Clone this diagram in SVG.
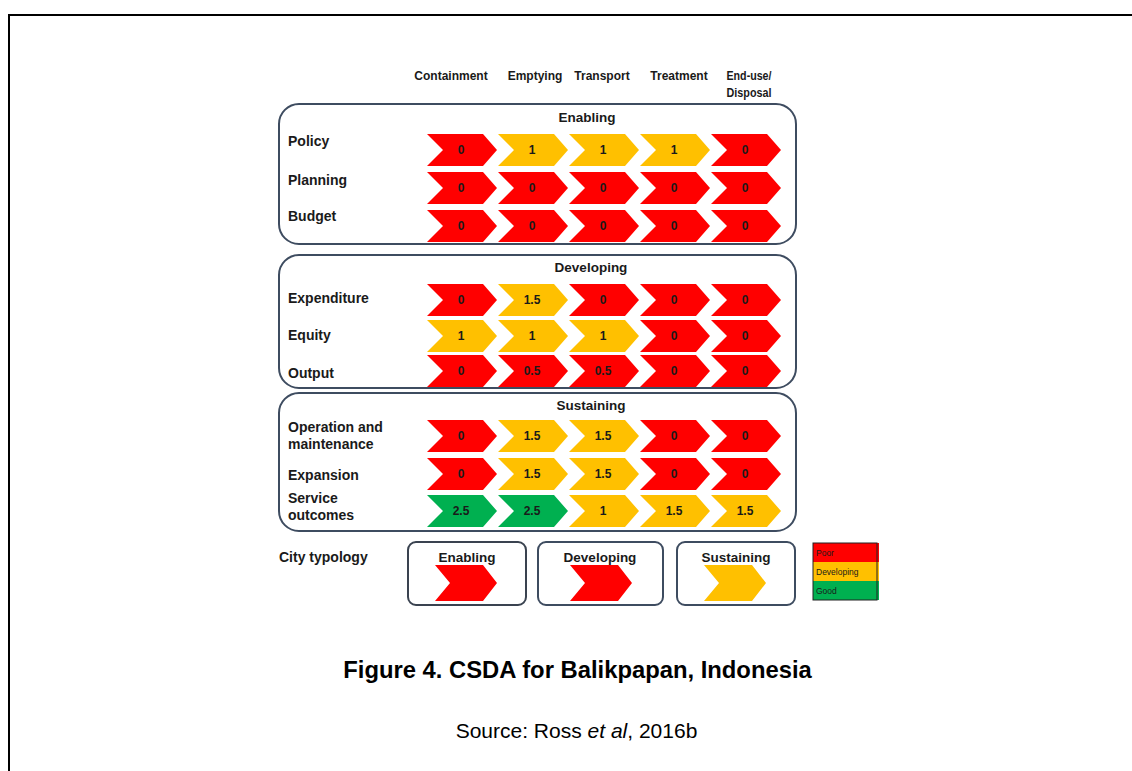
<svg xmlns="http://www.w3.org/2000/svg" xmlns:xlink="http://www.w3.org/1999/xlink" width="1132" height="771" viewBox="0 0 1132 771">
<style>
.hd{font-family:"Liberation Sans",Arial,sans-serif;font-weight:bold;font-size:12px;fill:#1a1a1a;text-anchor:middle}
.lb{font-family:"Liberation Sans",Arial,sans-serif;font-weight:bold;font-size:14px;fill:#1a1a1a}
.tt{font-family:"Liberation Sans",Arial,sans-serif;font-weight:bold;font-size:13.5px;fill:#1a1a1a;text-anchor:middle}
.v{font-family:"Liberation Sans",Arial,sans-serif;font-weight:bold;font-size:12px;fill:#1a1a1a;text-anchor:middle}
.r{fill:#FF0000}
.o{fill:#FFC000}
.g{fill:#00B050}
.box{fill:#fff;stroke:#3E4C60;stroke-width:2}
.lg{font-family:"Liberation Sans",Arial,sans-serif;font-size:8.5px;fill:#1a1a1a}
</style>
<defs>
<path id="chev" d="M0,0 H56 L70,16 L56,32 H0 L16,16 Z"/>
<path id="bigchev" d="M0,0 H48 L62,18 L48,36 H0 L15,18 Z"/>
</defs>
<rect width="1132" height="771" fill="#fff"/>
<path d="M9,771 V15 H1132" fill="none" stroke="#000" stroke-width="2"/>

<g id="headers">
<text class="hd" x="451" y="80">Containment</text>
<text class="hd" x="535" y="80">Emptying</text>
<text class="hd" x="602" y="80">Transport</text>
<text class="hd" x="679" y="80">Treatment</text>
<text class="hd" x="749" y="80" textLength="45" lengthAdjust="spacingAndGlyphs">End-use/</text>
<text class="hd" x="749" y="97" textLength="45" lengthAdjust="spacingAndGlyphs">Disposal</text>
</g>

<g id="enabling">
<rect class="box" x="279" y="104" width="517" height="140" rx="20"/>
<text class="tt" x="587" y="122">Enabling</text>
<text class="lb" x="288" y="146">Policy</text>
<text class="lb" x="288" y="185">Planning</text>
<text class="lb" x="288" y="221">Budget</text>
<use xlink:href="#chev" class="r" x="427" y="134"/><text class="v" x="461" y="154">0</text>
<use xlink:href="#chev" class="o" x="498" y="134"/><text class="v" x="532" y="154">1</text>
<use xlink:href="#chev" class="o" x="569" y="134"/><text class="v" x="603" y="154">1</text>
<use xlink:href="#chev" class="o" x="640" y="134"/><text class="v" x="674" y="154">1</text>
<use xlink:href="#chev" class="r" x="711" y="134"/><text class="v" x="745" y="154">0</text>
<use xlink:href="#chev" class="r" x="427" y="172"/><text class="v" x="461" y="192">0</text>
<use xlink:href="#chev" class="r" x="498" y="172"/><text class="v" x="532" y="192">0</text>
<use xlink:href="#chev" class="r" x="569" y="172"/><text class="v" x="603" y="192">0</text>
<use xlink:href="#chev" class="r" x="640" y="172"/><text class="v" x="674" y="192">0</text>
<use xlink:href="#chev" class="r" x="711" y="172"/><text class="v" x="745" y="192">0</text>
<use xlink:href="#chev" class="r" x="427" y="210"/><text class="v" x="461" y="230">0</text>
<use xlink:href="#chev" class="r" x="498" y="210"/><text class="v" x="532" y="230">0</text>
<use xlink:href="#chev" class="r" x="569" y="210"/><text class="v" x="603" y="230">0</text>
<use xlink:href="#chev" class="r" x="640" y="210"/><text class="v" x="674" y="230">0</text>
<use xlink:href="#chev" class="r" x="711" y="210"/><text class="v" x="745" y="230">0</text>
</g>

<g id="developing">
<rect class="box" x="279" y="255" width="517" height="133" rx="20"/>
<text class="tt" x="591" y="272">Developing</text>
<text class="lb" x="288" y="303">Expenditure</text>
<text class="lb" x="288" y="340">Equity</text>
<text class="lb" x="288" y="378">Output</text>
<use xlink:href="#chev" class="r" x="427" y="284"/><text class="v" x="461" y="304">0</text>
<use xlink:href="#chev" class="o" x="498" y="284"/><text class="v" x="532" y="304">1.5</text>
<use xlink:href="#chev" class="r" x="569" y="284"/><text class="v" x="603" y="304">0</text>
<use xlink:href="#chev" class="r" x="640" y="284"/><text class="v" x="674" y="304">0</text>
<use xlink:href="#chev" class="r" x="711" y="284"/><text class="v" x="745" y="304">0</text>
<use xlink:href="#chev" class="o" x="427" y="320"/><text class="v" x="461" y="340">1</text>
<use xlink:href="#chev" class="o" x="498" y="320"/><text class="v" x="532" y="340">1</text>
<use xlink:href="#chev" class="o" x="569" y="320"/><text class="v" x="603" y="340">1</text>
<use xlink:href="#chev" class="r" x="640" y="320"/><text class="v" x="674" y="340">0</text>
<use xlink:href="#chev" class="r" x="711" y="320"/><text class="v" x="745" y="340">0</text>
<use xlink:href="#chev" class="r" x="427" y="355"/><text class="v" x="461" y="375">0</text>
<use xlink:href="#chev" class="r" x="498" y="355"/><text class="v" x="532" y="375">0.5</text>
<use xlink:href="#chev" class="r" x="569" y="355"/><text class="v" x="603" y="375">0.5</text>
<use xlink:href="#chev" class="r" x="640" y="355"/><text class="v" x="674" y="375">0</text>
<use xlink:href="#chev" class="r" x="711" y="355"/><text class="v" x="745" y="375">0</text>
</g>

<g id="sustaining">
<rect class="box" x="279" y="393" width="517" height="138" rx="20"/>
<text class="tt" x="591" y="410">Sustaining</text>
<text class="lb" x="288" y="432">Operation and</text>
<text class="lb" x="288" y="449">maintenance</text>
<text class="lb" x="288" y="480">Expansion</text>
<text class="lb" x="288" y="503">Service</text>
<text class="lb" x="288" y="520">outcomes</text>
<use xlink:href="#chev" class="r" x="427" y="420"/><text class="v" x="461" y="440">0</text>
<use xlink:href="#chev" class="o" x="498" y="420"/><text class="v" x="532" y="440">1.5</text>
<use xlink:href="#chev" class="o" x="569" y="420"/><text class="v" x="603" y="440">1.5</text>
<use xlink:href="#chev" class="r" x="640" y="420"/><text class="v" x="674" y="440">0</text>
<use xlink:href="#chev" class="r" x="711" y="420"/><text class="v" x="745" y="440">0</text>
<use xlink:href="#chev" class="r" x="427" y="458"/><text class="v" x="461" y="478">0</text>
<use xlink:href="#chev" class="o" x="498" y="458"/><text class="v" x="532" y="478">1.5</text>
<use xlink:href="#chev" class="o" x="569" y="458"/><text class="v" x="603" y="478">1.5</text>
<use xlink:href="#chev" class="r" x="640" y="458"/><text class="v" x="674" y="478">0</text>
<use xlink:href="#chev" class="r" x="711" y="458"/><text class="v" x="745" y="478">0</text>
<use xlink:href="#chev" class="g" x="427" y="495"/><text class="v" x="461" y="515">2.5</text>
<use xlink:href="#chev" class="g" x="498" y="495"/><text class="v" x="532" y="515">2.5</text>
<use xlink:href="#chev" class="o" x="569" y="495"/><text class="v" x="603" y="515">1</text>
<use xlink:href="#chev" class="o" x="640" y="495"/><text class="v" x="674" y="515">1.5</text>
<use xlink:href="#chev" class="o" x="711" y="495"/><text class="v" x="745" y="515">1.5</text>
</g>

<g id="typology">
<text class="lb" x="279" y="562">City typology</text>
</g>
<g id="type-enabling">
<rect x="408" y="542" width="118" height="63" rx="8" fill="#fff" stroke="#3A4350" stroke-width="2"/>
<text class="tt" x="467" y="562">Enabling</text>
<use xlink:href="#bigchev" class="r" x="435" y="565"/>
</g>
<g id="type-developing">
<rect x="538" y="542" width="125" height="63" rx="8" fill="#fff" stroke="#3E4C60" stroke-width="2"/>
<text class="tt" x="600" y="562">Developing</text>
<use xlink:href="#bigchev" class="r" x="570" y="565"/>
</g>
<g id="type-sustaining">
<rect x="677" y="542" width="118" height="63" rx="8" fill="#fff" stroke="#3E4C60" stroke-width="2"/>
<text class="tt" x="736" y="562">Sustaining</text>
<use xlink:href="#bigchev" class="o" x="704" y="565"/>
</g>

<g id="legend">
<rect x="813" y="543" width="66" height="19" fill="#FF0000"/>
<rect x="813" y="562" width="66" height="19" fill="#FFC000"/>
<rect x="813" y="581" width="66" height="19" fill="#00B050"/>
<rect x="813" y="543" width="64" height="57" fill="none" stroke="#222" stroke-width="1"/>
<text class="lg" x="816" y="556">Poor</text>
<text class="lg" x="816" y="575">Developing</text>
<text class="lg" x="816" y="594">Good</text>
</g>

<g id="caption">
<text x="577.5" y="678" font-family="'Liberation Sans',Arial,sans-serif" font-weight="bold" font-size="23.8" fill="#000" text-anchor="middle">Figure 4. CSDA for Balikpapan, Indonesia</text>
<text x="576.5" y="738" font-family="'Liberation Sans',Arial,sans-serif" font-size="21" fill="#000" text-anchor="middle">Source: Ross <tspan font-style="italic">et al</tspan>, 2016b</text>
</g>
<g id="connectors"/>
</svg>
